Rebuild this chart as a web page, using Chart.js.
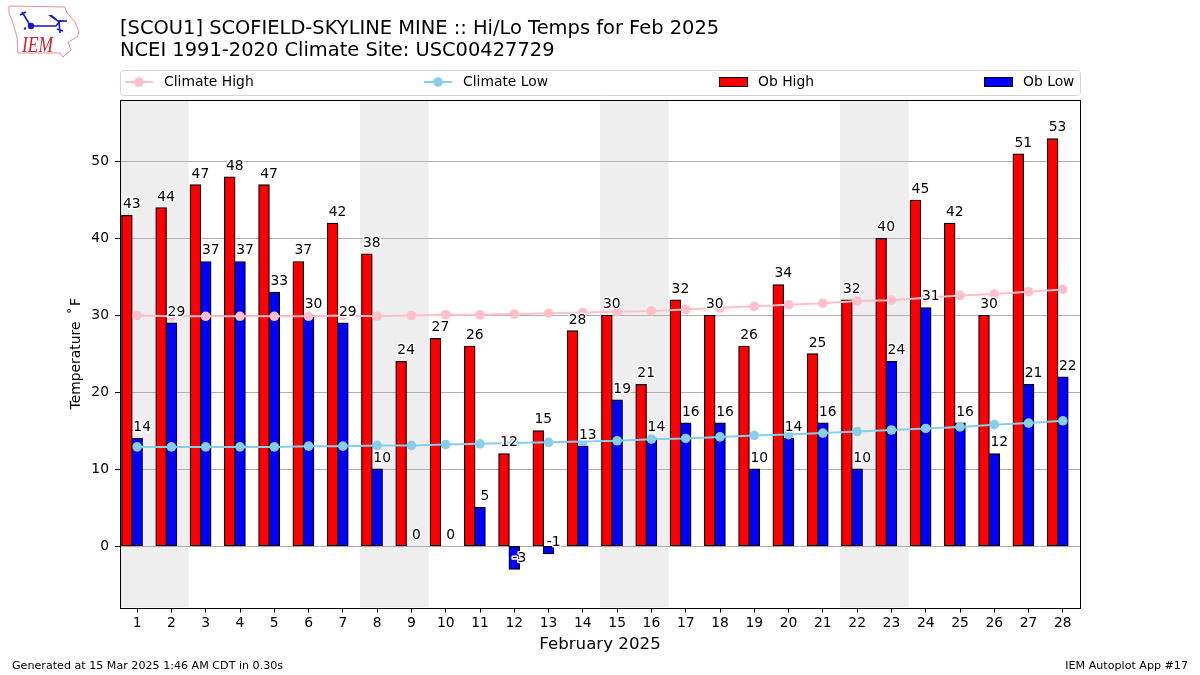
<!DOCTYPE html>
<html>
  <head>
    <title>SCOU1 Hi/Lo Temps</title>
    <style>
      body { margin: 0; background: #fff; }
      #wrap { position: relative; width: 1200px; height: 675px; }
      #temps { display: block; }
      #logo { position: absolute; left: 0; top: 0; }
    </style>
    <script src="https://cdn.jsdelivr.net/npm/chart.js"></script>
  </head>
  <body>
    <div id="wrap">
      <canvas id="temps" width="1200" height="675"></canvas>
      <svg id="logo" width="90" height="62">
        <path d="M9 6 L65 7 L67 13 L75 22 L79 32 L77 37 L68 42 L71 50 L63 57 L60 53 L18 53 L17 37 L12 20 L9 13 Z"
          fill="none" stroke="#e58f96" stroke-width="1" />
        <path d="M22 12 L30 25 M20 15 L26 12 M31 26 L56 26 L60 21 L67 21 M59 22 L60 33 M57 29 L63 31" fill="none" stroke="#1414d2" stroke-width="1.5" />
        <path d="M48 15 L52 15 L58 20 L67 21 L58 22 Z" fill="#1414d2" />
        <circle cx="31" cy="26" r="3.2" fill="#1414d2" />
        <circle cx="25" cy="28.5" r="1.2" fill="#1414d2" />
        <text transform="translate(22 52) scale(0.76 1)" font-family="Liberation Serif" font-style="italic" font-size="23" fill="#d42027">IEM</text>
      </svg>
    </div>

    <script>
      const days = ["1","2","3","4","5","6","7","8","9","10","11","12","13","14","15","16","17","18","19","20","21","22","23","24","25","26","27","28"];
      const obHigh = [43,44,47,48,47,37,42,38,24,27,26,12,15,28,30,21,32,30,26,34,25,32,40,45,42,30,51,53];
      const obLow = [14,29,37,37,33,30,29,10,0,0,5,-3,-1,13,19,14,16,16,10,14,16,10,24,31,16,12,21,22];
      const climateHigh = [30.0,29.9,29.9,29.9,29.9,29.9,30.0,29.9,30.0,30.1,30.1,30.2,30.3,30.4,30.5,30.6,30.8,31.0,31.2,31.4,31.6,31.9,32.0,32.3,32.6,32.8,33.1,33.4];
      const climateLow = [12.9,12.9,12.9,12.9,12.9,13.0,13.0,13.1,13.1,13.2,13.3,13.4,13.5,13.6,13.7,13.9,14.0,14.2,14.4,14.5,14.7,14.9,15.1,15.3,15.5,15.8,16.0,16.3];
      const spacer = days.map(() => null);
      const weekends = [["1","2"],["8","9"],["15","16"],["22","23"]];
      const yTicks = [0,10,20,30,40,50];
      const titleLines = [
        "[SCOU1] SCOFIELD-SKYLINE MINE :: Hi/Lo Temps for Feb 2025",
        "NCEI 1991-2020 Climate Site: USC00427729",
      ];

      const font = "DejaVu Sans";
      Chart.defaults.font.family = font;
      Chart.defaults.color = "#000";

      // grey weekend bands, goes under the grid
      const bands = {
        id: "bands",
        beforeDraw(chart) {
          const { ctx, chartArea, scales } = chart;
          const half = (scales.x.getPixelForValue(1) - scales.x.getPixelForValue(0)) / 2;
          ctx.save();
          ctx.fillStyle = "#eeeeee";
          weekends.forEach((w) => {
            const a = scales.x.getPixelForValue(days.indexOf(w[0])) - half;
            const b = scales.x.getPixelForValue(days.indexOf(w[1])) + half;
            ctx.fillRect(a, chartArea.top, b - a, chartArea.height);
          });
          ctx.restore();
        },
      };

      // value text over each bar with a white halo, plus axes box
      const barLabels = {
        id: "barLabels",
        afterDatasetsDraw(chart) {
          const { ctx, chartArea } = chart;
          ctx.save();
          ctx.strokeStyle = "#000";
          ctx.lineWidth = 1;
          ctx.strokeRect(chartArea.left + 0.5, chartArea.top + 0.5, chartArea.width, chartArea.height + 0.5);
          ctx.font = "13.89px " + font;
          ctx.textAlign = "center";
          ctx.textBaseline = "bottom";
          ctx.lineJoin = "round";
          [2, 3].forEach((i) => {
            const values = chart.data.datasets[i].data;
            chart.getDatasetMeta(i).data.forEach((bar, k) => {
              const y = chart.scales.y.getPixelForValue(values[k]) - 4;
              ctx.strokeStyle = "#fff";
              ctx.lineWidth = 3;
              ctx.strokeText(values[k], bar.x + 5, y);
              ctx.fillStyle = "#000";
              ctx.fillText(values[k], bar.x + 5, y);
            });
          });
          ctx.restore();
        },
      };

      // title, footer and the four evenly spread legend entries
      const extras = {
        id: "extras",
        afterDraw(chart) {
          const { ctx } = chart;
          const startX = [125, 424, 719, 984];
          ctx.save();
          ctx.textBaseline = "middle";
          ctx.textAlign = "left";
          ctx.fillStyle = "#000";
          ctx.font = "19.44px " + font;
          ctx.fillText(titleLines[0], 120, 29);
          ctx.fillText(titleLines[1], 120, 51);
          ctx.strokeStyle = "#d5d5d5";
          ctx.lineWidth = 1;
          ctx.beginPath();
          ctx.roundRect(120.5, 70.5, 960, 25, 3);
          ctx.stroke();
          ctx.font = "13.89px " + font;
          [0, 1, 2, 3].forEach((i) => {
            const ds = chart.data.datasets[i];
            const x = startX[i];
            if (i < 2) {
              ctx.strokeStyle = ds.borderColor;
              ctx.lineWidth = 2;
              ctx.beginPath();
              ctx.moveTo(x, 82);
              ctx.lineTo(x + 28, 82);
              ctx.stroke();
              ctx.fillStyle = ds.borderColor;
              ctx.beginPath();
              ctx.arc(x + 14, 82, 4.8, 0, Math.PI * 2);
              ctx.fill();
            } else {
              ctx.fillStyle = ds.backgroundColor;
              ctx.strokeStyle = "#000";
              ctx.lineWidth = 1;
              ctx.fillRect(x + 0.5, 77.5, 28, 9);
              ctx.strokeRect(x + 0.5, 77.5, 28, 9);
            }
            ctx.fillStyle = "#000";
            ctx.fillText(ds.label, x + 39, 82);
          });
          ctx.font = "11.11px " + font;
          ctx.fillText("Generated at 15 Mar 2025 1:46 AM CDT in 0.30s", 12, 666);
          ctx.textAlign = "right";
          ctx.fillText("IEM Autoplot App #17", 1188, 666);
          ctx.restore();
        },
      };

      const barStyle = { borderColor: "#000", borderWidth: 1.2, inflateAmount: 0.6, borderSkipped: false, order: 1 };

      new Chart(document.getElementById("temps"), {
        type: "bar",
        data: {
          labels: days,
          datasets: [
            { type: "line", label: "Climate High", data: climateHigh, borderColor: "#ffc0cb", backgroundColor: "#ffc0cb", borderWidth: 2, pointRadius: 4.8, pointBorderWidth: 0, order: 0 },
            { type: "line", label: "Climate Low", data: climateLow, borderColor: "#87ceeb", backgroundColor: "#87ceeb", borderWidth: 2, pointRadius: 4.8, pointBorderWidth: 0, order: 0 },
            { label: "Ob High", data: obHigh, backgroundColor: "#ff0000", ...barStyle },
            { label: "Ob Low", data: obLow, backgroundColor: "#0000ff", ...barStyle },
            // empty third slot so the blue bar lands on the tick
            { label: "", data: spacer, order: 1 },
          ],
        },
        options: {
          responsive: false,
          animation: false,
          categoryPercentage: 0.9,
          barPercentage: 1,
          layout: { padding: { left: 68, right: 120, top: 100, bottom: 0 } },
          plugins: {
            legend: { display: false },
            tooltip: { enabled: false },
          },
          scales: {
            x: {
              grid: { offset: false, drawOnChartArea: false, tickColor: "#000", tickLength: 5 },
              border: { display: false },
              ticks: { font: { size: 13.89 }, padding: 3, maxRotation: 0, autoSkip: false },
              title: { display: true, text: "February 2025", font: { size: 16.67 }, padding: { top: 0, bottom: 20 } },
              afterFit(scale) { scale.height = 67.5; },
            },
            y: {
              min: -8,
              max: 58.05,
              afterBuildTicks(scale) { scale.ticks = yTicks.map((v) => ({ value: v })); },
              grid: { color: "#b0b0b0", tickColor: "#000", tickLength: 5 },
              border: { display: false },
              ticks: { font: { size: 13.89 }, padding: 6 },
              title: { display: true, text: "Temperature\u2009 ˚\u200aF", font: { size: 13.89 }, padding: 0 },
              afterFit(scale) { scale.width = 52; },
            },
          },
        },
        plugins: [bands, barLabels, extras],
      });
    </script>
  </body>
</html>
